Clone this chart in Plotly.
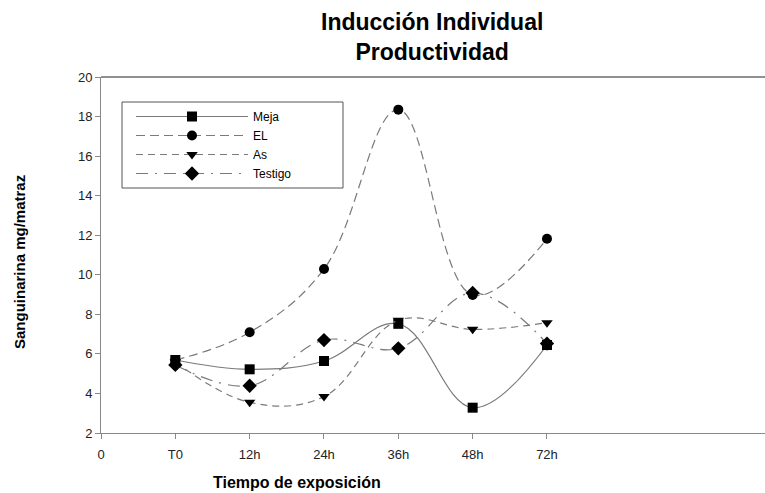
import plotly.graph_objects as go

x_pos = [1, 2, 3, 4, 5, 6]
tick_vals = [0, 1, 2, 3, 4, 5, 6]
tick_text = ["0", "T0", "12h", "24h", "36h", "48h", "72h"]
y_ticks = [2, 4, 6, 8, 10, 12, 14, 16, 18, 20]

meja = [5.69, 5.22, 5.64, 7.52, 3.28, 6.45]
el = [5.69, 7.09, 10.29, 18.35, 8.98, 11.82]
as_ = [5.6, 3.55, 3.84, 7.7, 7.24, 7.58]
testigo = [5.44, 4.39, 6.70, 6.28, 9.08, 6.52]

series = [
    ("Meja", meja, "square", "solid", 10),
    ("EL", el, "circle", "9px,5px", 10),
    ("As", as_, "triangle-down", "7px,5px", 10),
    ("Testigo", testigo, "diamond", "12px,7px,2px,7px", 11),
]

fig = go.Figure()
for name, vals, sym, dash, ms in series:
    fig.add_trace(go.Scatter(
        x=x_pos, y=vals, name=name, mode="lines+markers",
        line=dict(color="#7a7a7a", width=1.2, dash=dash, shape="spline", smoothing=1.1),
        marker=dict(symbol=sym, size=ms, color="black"),
    ))

font_family = "Liberation Sans, Arial, sans-serif"
L, T, B, W, H = 101, 77, 433, 765, 493
pw, ph = W - L, B - T


def px(xp):
    return (xp - L) / pw


def py(yp):
    return (B - yp) / ph


fig.update_layout(
    width=W, height=H,
    margin=dict(l=L, r=0, t=T, b=H - B),
    paper_bgcolor="white", plot_bgcolor="white",
    font=dict(family=font_family, size=12, color="#222"),
    showlegend=True,
    legend=dict(x=px(131), y=py(102), xanchor="left", yanchor="top",
                borderwidth=0, bgcolor="rgba(0,0,0,0)",
                itemwidth=112, font=dict(size=12, color="black"),
                tracegroupgap=0),
    xaxis=dict(range=[0, pw / 74.33], tickmode="array", tickvals=tick_vals, ticktext=tick_text,
               showgrid=False, zeroline=False, showline=True, linecolor="#888", linewidth=1,
               mirror=False, ticks="outside", ticklen=5, tickcolor="#888",
               ticklabelstandoff=4,
               tickfont=dict(size=13, color="#222")),
    yaxis=dict(range=[2, 20], tickmode="array", tickvals=y_ticks,
               showgrid=False, zeroline=False, showline=True, linecolor="#888", linewidth=1,
               ticks="outside", ticklen=5, tickcolor="#888",
               tickfont=dict(size=13, color="#222")),
    annotations=[
        dict(text="<b>Inducción Individual<br>Productividad</b>",
             x=px(432), y=py(7), xref="paper", yref="paper",
             xanchor="center", yanchor="top", showarrow=False,
             font=dict(size=23, color="black", family=font_family)),
        dict(text="<b>Tiempo de exposición</b>", x=px(297), y=py(482), xref="paper", yref="paper",
             xanchor="center", yanchor="middle", showarrow=False,
             font=dict(size=16, color="black", family=font_family)),
        dict(text="<b>Sanguinarina mg/matraz</b>", x=px(19), y=py(262), xref="paper", yref="paper",
             xanchor="center", yanchor="middle", showarrow=False, textangle=-90,
             font=dict(size=15, color="black", family=font_family)),
    ],
    shapes=[
        dict(type="line", xref="paper", yref="paper", x0=0, x1=1, y0=1, y1=1,
             line=dict(color="#222", width=1)),
        dict(type="rect", xref="paper", yref="paper", x0=px(122), x1=px(343), y0=py(188), y1=py(102),
             line=dict(color="#555", width=1), fillcolor="rgba(0,0,0,0)"),
    ],
)
fig.write_html("out.html")
